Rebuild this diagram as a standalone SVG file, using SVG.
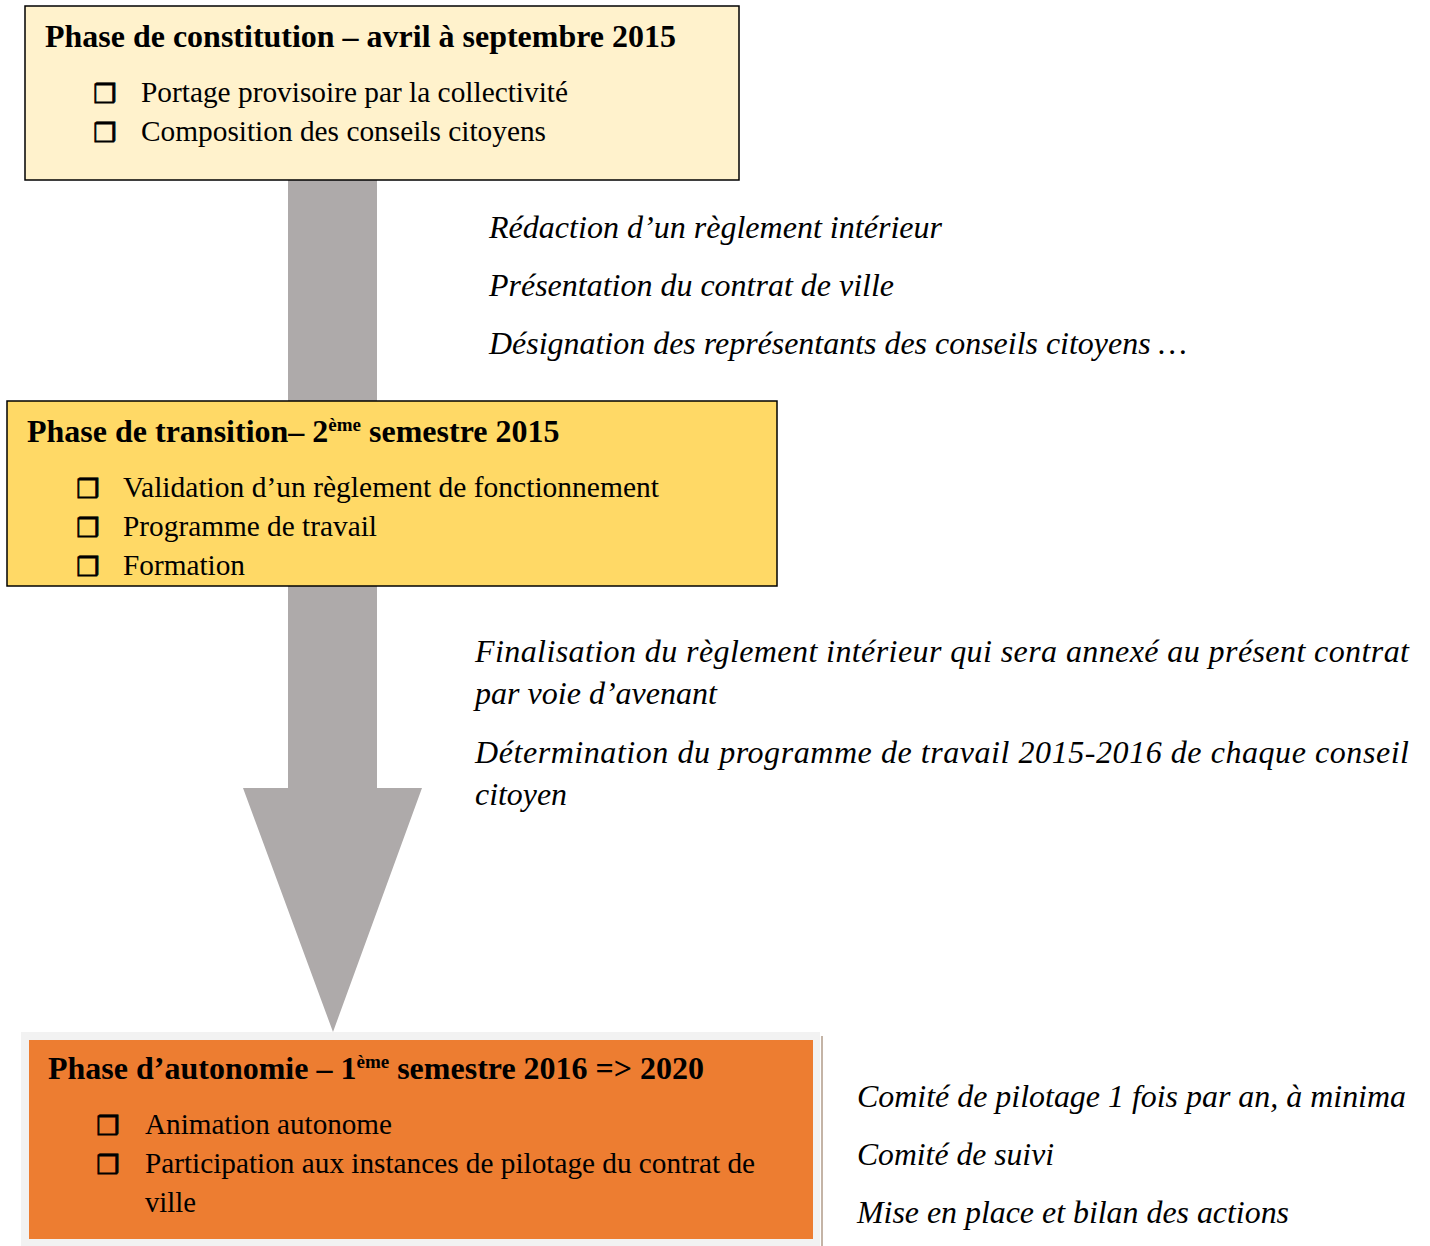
<svg xmlns="http://www.w3.org/2000/svg" width="1430" height="1246" viewBox="0 0 1430 1246">
<style>
.t{font-family:"Liberation Serif","Times New Roman",serif;font-weight:bold;font-size:32px;fill:#000}
.b{font-family:"Liberation Serif","Times New Roman",serif;font-size:29px;fill:#000}
.i{font-family:"Liberation Serif","Times New Roman",serif;font-style:italic;font-size:32px;fill:#000}
.bl{font-family:"DejaVu Sans",sans-serif;font-size:26px;fill:#000;stroke:#000;stroke-width:0.8}
.sup{font-size:19px}
</style>
<rect width="1430" height="1246" fill="#ffffff"/>
<g id="connectors">
<rect x="288" y="180" width="89" height="222" fill="#AEAAAA"/>
<path d="M288 586 L377 586 L377 788 L422 788 L333 1032 L243 788 L288 788 Z" fill="#AEAAAA"/>
</g>
<g id="phase-constitution">
<rect x="25" y="6" width="714" height="174" fill="#FFF2CC" stroke="#000" stroke-width="1.5"/>
<text class="t" x="45" y="47" textLength="631" lengthAdjust="spacingAndGlyphs">Phase de constitution – avril à septembre 2015</text>
<text class="bl" x="93" y="103">❒</text>
<text class="b" x="141" y="102" textLength="427" lengthAdjust="spacingAndGlyphs">Portage provisoire par la collectivité</text>
<text class="bl" x="93" y="142">❒</text>
<text class="b" x="141" y="141" textLength="405" lengthAdjust="spacingAndGlyphs">Composition des conseils citoyens</text>
</g>
<g id="notes-1">
<text class="i" x="489" y="238" textLength="453" lengthAdjust="spacingAndGlyphs">Rédaction d’un règlement intérieur</text>
<text class="i" x="489" y="296" textLength="405" lengthAdjust="spacingAndGlyphs">Présentation du contrat de ville</text>
<text class="i" x="489" y="354" textLength="698" lengthAdjust="spacingAndGlyphs">Désignation des représentants des conseils citoyens …</text>
</g>
<g id="phase-transition">
<rect x="7" y="401" width="770" height="185" fill="#FFD966" stroke="#000" stroke-width="1.5"/>
<text class="t" x="27" y="442">Phase de transition– 2<tspan class="sup" dy="-11">ème</tspan><tspan dy="11"> semestre 2015</tspan></text>
<text class="bl" x="76" y="498">❒</text>
<text class="b" x="123" y="497" textLength="536" lengthAdjust="spacingAndGlyphs">Validation d’un règlement de fonctionnement</text>
<text class="bl" x="76" y="537">❒</text>
<text class="b" x="123" y="536" textLength="254" lengthAdjust="spacingAndGlyphs">Programme de travail</text>
<text class="bl" x="76" y="576">❒</text>
<text class="b" x="123" y="575" textLength="122" lengthAdjust="spacingAndGlyphs">Formation</text>
</g>
<g id="notes-2">
<text class="i" x="475" y="662" textLength="934" lengthAdjust="spacing">Finalisation du règlement intérieur qui sera annexé au présent contrat</text>
<text class="i" x="475" y="704" textLength="242" lengthAdjust="spacingAndGlyphs">par voie d’avenant</text>
<text class="i" x="475" y="763" textLength="934" lengthAdjust="spacing">Détermination du programme de travail 2015-2016 de chaque conseil</text>
<text class="i" x="475" y="805" textLength="92" lengthAdjust="spacingAndGlyphs">citoyen</text>
</g>
<g id="phase-autonomie">
<rect x="21" y="1032" width="799" height="214" fill="#F2F2F2"/>
<rect x="29" y="1040" width="784" height="199" fill="#ED7D31"/>
<line x1="822" y1="1036" x2="822" y2="1246" stroke="#C4B4A6" stroke-width="2"/>
<text class="t" x="48" y="1079">Phase d’autonomie – 1<tspan class="sup" dy="-11">ème</tspan><tspan dy="11"> semestre 2016 =&gt; 2020</tspan></text>
<text class="bl" x="96" y="1135">❒</text>
<text class="b" x="145" y="1134" textLength="247" lengthAdjust="spacingAndGlyphs">Animation autonome</text>
<text class="bl" x="96" y="1174">❒</text>
<text class="b" x="145" y="1173" textLength="610" lengthAdjust="spacingAndGlyphs">Participation aux instances de pilotage du contrat de</text>
<text class="b" x="145" y="1212" textLength="51" lengthAdjust="spacingAndGlyphs">ville</text>
</g>
<g id="notes-3">
<text class="i" x="857" y="1107" textLength="549" lengthAdjust="spacingAndGlyphs">Comité de pilotage 1 fois par an, à minima</text>
<text class="i" x="857" y="1165" textLength="197" lengthAdjust="spacingAndGlyphs">Comité de suivi</text>
<text class="i" x="857" y="1223" textLength="432" lengthAdjust="spacingAndGlyphs">Mise en place et bilan des actions</text>
</g>
</svg>
